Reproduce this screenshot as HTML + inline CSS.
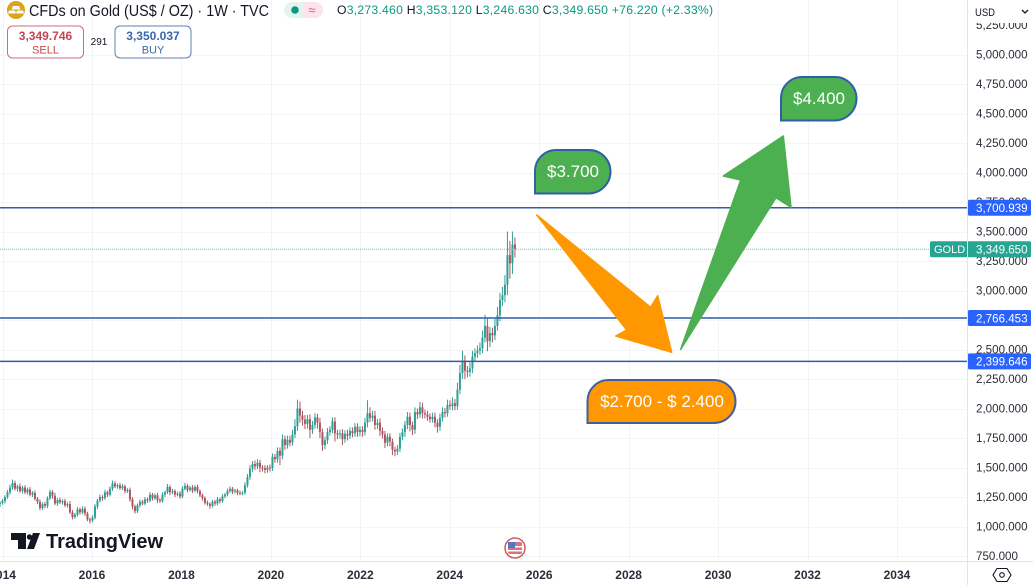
<!DOCTYPE html>
<html lang="en">
<head>
<meta charset="utf-8">
<title>CFDs on Gold weekly chart</title>
<style>
html,body{margin:0;padding:0;background:#fff;width:1033px;height:585px;overflow:hidden}
svg{display:block;font-family:"Liberation Sans","DejaVu Sans",sans-serif}
#candles{filter:blur(0.3px)}
</style>
</head>
<body>
<svg id="chart" xmlns="http://www.w3.org/2000/svg" width="1033" height="585" viewBox="0 0 1033 585">
  <defs><clipPath id="plot-clip"><rect x="0" y="0" width="968" height="561"/></clipPath></defs>
  <rect width="1033" height="585" fill="#ffffff"/>
  <g id="grid" clip-path="url(#plot-clip)"></g>
  <g id="candles" clip-path="url(#plot-clip)"></g>
  <g id="levels" clip-path="url(#plot-clip)"></g>
  <g id="y-ticks"></g>
  <g id="x-ticks"></g>
  <line x1="967.5" y1="0" x2="967.5" y2="585" stroke="#e2e4e8"/>
  <line x1="0" y1="561.5" x2="1033" y2="561.5" stroke="#e2e4e8"/>

  <polygon points="536.7,215 650.7,307.3 657.7,295.7 671.7,352.3 615.7,336 626.7,330" fill="#ff9800" stroke="#ff9800" stroke-width="1.5" stroke-linejoin="round"/>
  <polygon points="680.7,349.3 740.7,180 723.3,176 783.3,136 791,207.3 776,197.7" fill="#4caf50" stroke="#4caf50" stroke-width="1.5" stroke-linejoin="round"/>

  <g>
    <path d="M535,193.5 V171 A21,21 0 0 1 556,150 H589 A21.5,21.5 0 0 1 610.500,171.500 A22,22 0 0 1 588.500,193.500 Z" fill="#4caf50" stroke="#2f5fa8" stroke-width="2"/>
    <text x="573" y="177" text-anchor="middle" font-size="17" fill="#fff">$3.700</text>
  </g>
  <g>
    <path d="M781,120.500 V98 A21,21 0 0 1 802,77 H835 A21.500,21.500 0 0 1 856.500,98.500 A22,22 0 0 1 834.500,120.500 Z" fill="#4caf50" stroke="#2f5fa8" stroke-width="2"/>
    <text x="819" y="104" text-anchor="middle" font-size="17" fill="#fff">$4.400</text>
  </g>
  <g>
    <path d="M587.500,423 V401 A21,21 0 0 1 608.500,380 H714 A21.500,21.500 0 0 1 735.500,401.500 A21.500,21.500 0 0 1 714,423 Z" fill="#ff9800" stroke="#3f5f9f" stroke-width="2"/>
    <text x="662" y="407" text-anchor="middle" font-size="17" fill="#fff">$2.700 - $ 2.400</text>
  </g>

  <g>
    <circle cx="16" cy="10" r="9" fill="#d9a41e"/>
    <path d="M13,6 h6 l1.500,3.500 h-9 Z M9,10.500 h6 l1,3 h-8 Z M17,10.500 h6 l1,3 h-8 Z" fill="#fff"/>
    <text x="29" y="16" font-size="15.400" fill="#131722" textLength="240" lengthAdjust="spacingAndGlyphs">CFDs on Gold (US$ / OZ) · 1W · TVC</text>
    <rect x="284" y="2" width="39" height="16" rx="8" fill="#e4f3ee"/>
    <path d="M304,2 h11 a8,8 0 0 1 0,16 h-11 Z" fill="#fce4ec"/>
    <circle cx="295" cy="10" r="3.800" fill="#089981"/>
    <text x="312" y="14.500" text-anchor="middle" font-size="13" fill="#e2559a">≈</text>
    <text x="337" y="14" font-size="12.200" fill="#089981" textLength="376" lengthAdjust="spacing"><tspan fill="#131722">O</tspan>3,273.460 <tspan fill="#131722">H</tspan>3,353.120 <tspan fill="#131722">L</tspan>3,246.630 <tspan fill="#131722">C</tspan>3,349.650 +76.220 (+2.33%)</text>
  </g>

  <g>
    <rect x="7.500" y="26" width="76" height="32" rx="5" fill="#fff" stroke="#c9707c"/>
    <text x="45.500" y="40" text-anchor="middle" font-size="12" font-weight="bold" fill="#c44552">3,349.746</text>
    <text x="45.500" y="53.500" text-anchor="middle" font-size="11" fill="#c44552">SELL</text>
  </g>
  <text x="99" y="45" text-anchor="middle" font-size="10" fill="#131722">291</text>
  <g>
    <rect x="115" y="26" width="76" height="32" rx="5" fill="#fff" stroke="#5b82ad"/>
    <text x="153" y="40" text-anchor="middle" font-size="12" font-weight="bold" fill="#3a66b0">3,350.037</text>
    <text x="153" y="53.500" text-anchor="middle" font-size="11" fill="#3a66b0">BUY</text>
  </g>

  <g>
    <rect x="972" y="0" width="61" height="23" fill="#fff"/>
    <text x="975" y="16" font-size="11" fill="#131722" textLength="20" lengthAdjust="spacingAndGlyphs">USD</text>
    <path d="M1022,10 l3,3 l3,-3" fill="none" stroke="#131722" stroke-width="1.300"/>
  </g>

  <g>
    <path d="M11,533 H26 V549 H18 V540 H11 Z M27,549 L33,533 H40 L34,549 Z" fill="#131722"/>
    <circle cx="29.500" cy="537" r="2.700" fill="#131722"/>
    <text x="46" y="548" font-size="20" font-weight="bold" fill="#131722" textLength="117">TradingView</text>
  </g>

  <g>
    <circle cx="515" cy="548" r="10" fill="#fff" stroke="#cf5b63" stroke-width="1.500"/>
    <rect x="508" y="542" width="14" height="12" rx="2" fill="#d9727a"/>
    <rect x="508" y="546" width="14" height="1.500" fill="#fff"/>
    <rect x="508" y="550" width="14" height="1.500" fill="#fff"/>
    <rect x="508" y="542" width="7" height="6" fill="#4f79c4"/>
  </g>

  <path d="M997,568.500 h10 l4,6.500 l-4,6.500 h-10 l-4,-6.500 Z" fill="none" stroke="#131722" stroke-width="1.100"/>
  <circle cx="1002" cy="575" r="2.300" fill="none" stroke="#131722" stroke-width="1.100"/>
</svg>

<script>
var yTickValues = [5250, 5000, 4750, 4500, 4250, 4000, 3750, 3500, 3250, 3000, 2500, 2250, 2000, 1750, 1500, 1250, 1000, 750];
var yGridValues = [5000, 4750, 4500, 4250, 4000, 3750, 3500, 3250, 3000, 2750, 2500, 2250, 2000, 1750, 1500, 1250, 1000, 750];
var xTickYears = [2014, 2016, 2018, 2020, 2022, 2024, 2026, 2028, 2030, 2032, 2034];
var levelPrices = [3700.939, 2766.453, 2399.646];
var lastPrice = 3349.650;
var firstCandleYear = 2013.942;
var candleStepYears = 0.0559;
var closes = [
1200,1215,1250,1290,1330,1368,1320,1340,1300,1330,1290,1315,1270,1285,1235,1210,1157,1190,1175,1240,
1293,1260,1195,1225,1205,1215,1180,1190,1120,1080,1100,1145,1120,1150,1110,1060,1050,1075,1170,1220,
1250,1240,1290,1270,1320,1365,1340,1350,1325,1340,1300,1310,1230,1170,1130,1180,1210,1195,1230,1220,
1270,1240,1265,1225,1215,1270,1290,1335,1290,1300,1270,1280,1255,1320,1345,1310,1330,1305,1335,1300,
1265,1240,1200,1190,1175,1210,1195,1230,1215,1255,1270,1300,1320,1295,1305,1285,1280,1285,1350,1420,
1490,1530,1510,1540,1500,1495,1480,1500,1495,1590,1570,1640,1600,1740,1690,1735,1710,1780,1850,2000,
1940,1905,1870,1910,1820,1860,1925,1880,1800,1690,1730,1800,1820,1890,1790,1780,1790,1740,1785,1770,
1810,1790,1845,1800,1820,1800,1880,1960,1920,1940,1860,1880,1810,1780,1710,1760,1720,1650,1635,1660,
1760,1800,1860,1930,1860,1820,1970,1950,2010,1960,1950,1930,1910,1930,1880,1845,1920,1970,1960,2030,
2020,2045,2020,2160,2300,2400,2320,2310,2340,2440,2470,2490,2510,2600,2700,2570,2640,2620,2700,2790,
2920,2960,3050,3300,3230,3390,3350
];
var upperWicks = [
15,20,15,20,25,30,20,15,25,15,20,15,20,15,20,15,20,15,20,15,
20,15,25,15,20,15,20,15,25,20,15,20,15,20,20,15,15,20,20,15,
20,15,20,15,20,25,20,15,20,20,15,15,20,20,15,15,20,15,20,15,
20,15,15,20,15,20,15,25,15,20,15,15,20,20,25,15,15,20,15,20,
15,15,15,20,15,15,15,20,15,20,15,20,20,15,15,15,20,15,25,25,
30,25,30,30,25,20,25,20,25,30,25,30,30,40,30,35,35,40,60,75,
60,40,40,35,40,35,35,30,40,30,30,35,30,35,35,30,30,35,30,35,
30,30,30,30,30,30,40,110,50,40,40,30,35,30,30,30,30,25,25,30,
35,30,35,40,35,30,40,30,45,40,30,30,30,35,35,30,35,40,35,45,
40,50,35,60,70,90,50,40,50,50,40,45,50,60,95,60,50,45,60,70,
60,70,80,200,120,110,60
];
var lowerWicks = [
25,15,20,15,20,20,15,25,15,20,15,20,15,20,15,20,20,15,20,20,
15,25,15,20,15,20,15,20,15,20,15,15,20,15,20,15,25,15,15,20,
15,20,15,20,15,20,15,20,15,15,20,15,20,25,20,15,20,15,15,20,
15,20,15,25,15,15,20,15,25,15,20,15,20,15,15,20,15,20,15,20,
15,20,15,15,25,15,20,15,20,15,15,15,15,20,15,20,15,15,15,20,
25,30,30,25,40,30,30,25,30,25,30,30,80,30,40,30,30,25,30,40,
60,50,45,40,70,35,30,50,50,50,35,30,30,30,70,40,35,50,30,40,
30,35,30,40,35,40,30,40,35,30,40,35,45,35,45,30,40,45,40,30,
30,30,40,35,55,45,35,40,30,45,35,35,30,30,40,50,35,30,35,30,
30,35,35,30,40,50,70,45,40,40,40,40,35,40,40,85,50,60,40,40,
50,50,60,90,130,90,70
];

var svgNS = 'http://www.w3.org/2000/svg';
function yOf(price) { return 54.5 + (5000 - price) * 0.118; }
function xOf(year) { return 92 + (year - 2016) * 44.72; }
function formatPrice(v) {
  var parts = v.toFixed(3).split('.');
  return parts[0].replace(/\B(?=(\d{3})+$)/g, ',') + '.' + parts[1];
}
function make(tag, attrs, parent, text) {
  var el = document.createElementNS(svgNS, tag);
  for (var k in attrs) { el.setAttribute(k, attrs[k]); }
  if (text !== undefined) { el.textContent = text; }
  parent.appendChild(el);
  return el;
}

var grid = document.getElementById('grid');
yGridValues.forEach(function (v) {
  var y = Math.round(yOf(v)) + 0.5;
  var line = make('line', {x1: 0, x2: 968, y1: y, y2: y, stroke: '#f3f4f6'}, grid);
  
  
});
xTickYears.forEach(function (yr) {
  var x = Math.round(xOf(yr)) + 0.5;
  var line = make('line', {x1: x, x2: x, y1: 0, y2: 561, stroke: '#f3f4f6'}, grid);
  
  
});

var candleGroup = document.getElementById('candles');
closes.forEach(function (close, i) {
  var open = i === 0 ? 1190 : closes[i - 1];
  var high = Math.max(open, close) + (upperWicks[i] || 0);
  var low = Math.min(open, close) - (lowerWicks[i] || 0);
  var x = xOf(firstCandleYear + i * candleStepYears);
  var color = close >= open ? '#2f9f95' : '#ad5560';
  var wick = make('line', {x1: x, x2: x, y1: yOf(high), y2: yOf(low), stroke: color, 'stroke-width': 1}, candleGroup);
  
  
  var top = yOf(Math.max(open, close));
  var h = Math.max(1, yOf(Math.min(open, close)) - top);
  var body = make('rect', {x: x - 1, y: top, width: 2, height: h, fill: color}, candleGroup);
  
  
});

var levels = document.getElementById('levels');
var lastY = yOf(lastPrice);
var lastLine = make('line', {x1: 0, x2: 968, y1: lastY, y2: lastY, stroke: '#7fbdb4', 'stroke-width': 1, 'stroke-dasharray': '1 1'}, levels);


levelPrices.forEach(function (p) {
  var y = yOf(p);
  var line = make('line', {x1: 0, x2: 968, y1: y, y2: y, stroke: '#2f5ba8', 'stroke-width': 1.5}, levels);
  
  
});

var yTicks = document.getElementById('y-ticks');
yTickValues.forEach(function (v) {
  var t = make('text', {x: 976, y: yOf(v) + 4.2, 'font-size': 11.6, fill: '#2a2e39'}, yTicks, formatPrice(v));
  
  
});
levelPrices.forEach(function (p) {
  var y = yOf(p);
  var box = make('rect', {x: 968, y: y - 8, width: 63, height: 16, rx: 1.5, fill: '#2962ff'}, yTicks);
  
  
  var t = make('text', {x: 976, y: y + 4.2, 'font-size': 11.6, fill: '#ffffff'}, yTicks, formatPrice(p));
  
  
});
var goldBox = make('rect', {x: 930, y: lastY - 8, width: 101, height: 16, rx: 1.5, fill: '#26a592'}, yTicks);


var goldDivider = make('line', {x1: 967.5, x2: 967.5, y1: lastY - 8, y2: lastY + 8, stroke: '#d8efeb'}, yTicks);


var goldName = make('text', {x: 934, y: lastY + 4, 'font-size': 11, fill: '#ffffff'}, yTicks, 'GOLD');


var goldValue = make('text', {x: 976, y: lastY + 4.2, 'font-size': 11.6, fill: '#ffffff'}, yTicks, formatPrice(lastPrice));



var xTicks = document.getElementById('x-ticks');
xTickYears.forEach(function (yr) {
  var t = make('text', {x: xOf(yr), y: 579, 'text-anchor': 'middle', 'font-size': 12, 'font-weight': 'bold', fill: '#2a2e39'}, xTicks, String(yr));
  
  
});
</script>
</body>
</html>
